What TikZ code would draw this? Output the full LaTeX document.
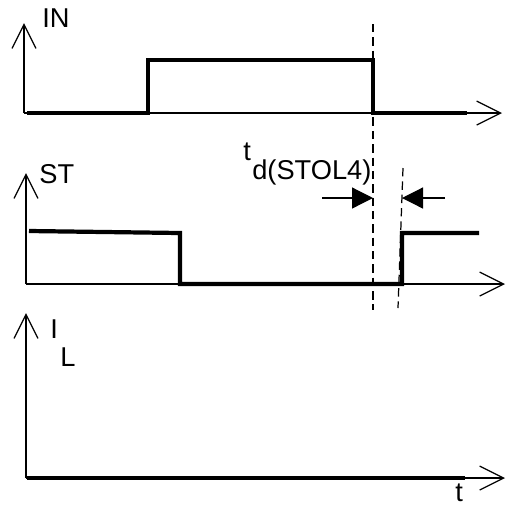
\documentclass[tikz,border=0pt]{standalone}
\usepackage{fontspec}
\setmainfont{Liberation Sans}
\usetikzlibrary{arrows.meta}
\begin{document}
\begin{tikzpicture}[x=0.02cm, y=-0.02cm,
        axis/.style={
            line width=0.7pt,
            -{Straight Barb[length=0.48cm, width=0.48cm]}
        },
        signal/.style={line width=2.4pt, line join=miter},
        guide/.style={line width=0.7pt, dash pattern=on 4.8pt off 2.8pt},
        dimarrow/.style={line width=0.7pt, -{Triangle[length=0.42cm, width=0.42cm]}},
        lbl/.style={inner sep=0pt, anchor=base west, font=\fontsize{15.5}{18}\selectfont}
    ]
    \useasboundingbox (0,0) rectangle (507,505);

    % IN
    \coordinate (in0) at (24,113);
    \coordinate (inY) at (24,23);
    \coordinate (inX) at (502,113);
    \draw[axis] (in0) -- (inY);
    \draw[axis] (in0) -- (inX);
    \draw[signal] (27,113) -- (148,113) -- (148,60) -- (373,60) -- (373,113) -- (467,113);
    \node[lbl] (inlbl) at (42,27) {IN};

    % ST
    \coordinate (st0) at (26,284);
    \coordinate (stY) at (26,173);
    \coordinate (stX) at (505,284);
    \draw[axis] (st0) -- (stY);
    \draw[axis] (st0) -- (stX);
    \draw[signal] (29,231) -- (180,233) -- (180,284) -- (402,284) -- (402,233) -- (479,233);
    \node[lbl] (stlbl) at (39,183) {ST};

    % IL
    \coordinate (il0) at (26,478);
    \coordinate (ilY) at (26,313);
    \coordinate (ilX) at (505,478);
    \draw[axis] (il0) -- (ilY);
    \draw[axis] (il0) -- (ilX);
    \draw[signal] (27,478) -- (465,478);
    \node[lbl] (illbl) at (50,338) {I};
    \node[lbl] (ilsub) at (60,366) {L};
    \node[lbl] (tlbl) at (455,501) {t};

    % delay
    \coordinate (g1a) at (373,24);
    \coordinate (g1b) at (373,310);
    \coordinate (g2a) at (403,168);
    \coordinate (g2b) at (398,308);
    \draw[guide] (g1a) -- (g1b);
    \draw[guide] (g2a) -- (g2b);
    \coordinate (dl) at (322,198);
    \coordinate (dr) at (445,198);
    \draw[dimarrow] (dl) -- (373,198);
    \draw[dimarrow] (dr) -- (402,198);
    \node[lbl] (tdlbl) at (243,160) {t};
    \node[lbl] (tdsub) at (252,179) {d(STOL4)};
\end{tikzpicture}
\end{document}
